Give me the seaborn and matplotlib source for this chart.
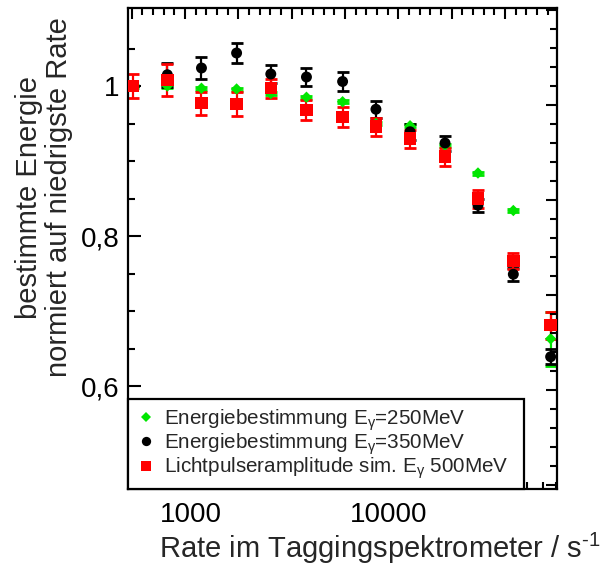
import numpy as np
import pandas as pd
import matplotlib
matplotlib.use("Agg")
import matplotlib.pyplot as plt
import seaborn as sns
from matplotlib.ticker import FixedLocator, LogLocator, FuncFormatter, NullFormatter

# Rate im Taggingspektrometer (1/s)
rate = [510, 760, 1130, 1700, 2530, 3830, 5830, 8590, 12770, 19180, 28130, 42430, 65470]

# Energiebestimmung bei E_gamma = 250 MeV
e250 = [1.0, 1.0, 0.997, 0.996, 0.990, 0.985, 0.979, 0.950, 0.947, 0.921, 0.884, 0.834, 0.663]
e250_err = [0.002, 0.002, 0.002, 0.002, 0.002, 0.002, 0.002, 0.002, 0.002, 0.002, 0.002, 0.002, 0.036]

# Energiebestimmung bei E_gamma = 350 MeV
e350 = [1.0, 1.015, 1.024, 1.044, 1.016, 1.012, 1.006, 0.969, 0.939, 0.924, 0.841, 0.749, 0.639]
e350_err = [0.0, 0.016, 0.015, 0.013, 0.012, 0.012, 0.013, 0.011, 0.011, 0.010, 0.009, 0.009, 0.010]

# Lichtpulseramplitude, simuliert E_gamma = 500 MeV
licht = [1.0, 1.008, 0.977, 0.976, 0.997, 0.968, 0.959, 0.946, 0.930, 0.906, 0.850, 0.767, 0.681]
licht_err = [0.016, 0.021, 0.015, 0.016, 0.013, 0.013, 0.013, 0.012, 0.012, 0.012, 0.012, 0.011, 0.018]

labels = [
    r'Energiebestimmung E$_{\mathregular{γ}}$=250MeV',
    r'Energiebestimmung E$_{\mathregular{γ}}$=350MeV',
    r'Lichtpulseramplitude sim. E$_{\mathregular{γ}}$ 500MeV',
]
colors = ['#00e600', '#000000', '#ff0000']
markers = ['D', 'o', 's']
sizes = [34, 62, 80]

sns.set_style('ticks')
plt.rcParams['font.family'] = ['Liberation Sans', 'DejaVu Sans']
plt.rcParams['mathtext.fontset'] = 'custom'
plt.rcParams['mathtext.rm'] = 'Liberation Sans'
plt.rcParams['mathtext.it'] = 'Liberation Sans:italic'

fig = plt.figure(figsize=(6.12, 5.69), dpi=100)
ax = fig.add_axes([128 / 612, 1 - 489 / 569, 429 / 612, 481 / 569])

series = [(e250, e250_err), (e350, e350_err), (licht, licht_err)]
frames = []
for lab, (vals, errs), col in zip(labels, series, colors):
    ax.errorbar(rate, vals, yerr=errs, fmt='none', ecolor=col,
                elinewidth=1.6, capsize=4.3, capthick=2.0, zorder=2)
    frames.append(pd.DataFrame({'rate': rate, 'wert': vals, 'serie': lab}))
df = pd.concat(frames, ignore_index=True)

sns.scatterplot(data=df, x='rate', y='wert', hue='serie', style='serie', size='serie',
                palette=dict(zip(labels, colors)), markers=dict(zip(labels, markers)),
                sizes=dict(zip(labels, sizes)), edgecolor='none', linewidth=0,
                ax=ax, zorder=3, legend=True)

ax.set_xscale('log')
ax.set_xlim(481, 70500)
ax.set_ylim(0.4627, 1.104)

ax.xaxis.set_major_locator(FixedLocator([1000, 10000]))
ax.xaxis.set_major_formatter(FuncFormatter(lambda v, p: f'{int(round(v))}'))
ax.xaxis.set_minor_locator(LogLocator(base=10, subs=np.arange(2, 10)))
ax.xaxis.set_minor_formatter(NullFormatter())
ax.yaxis.set_major_locator(FixedLocator([0.6, 0.8, 1.0]))
ax.yaxis.set_major_formatter(FuncFormatter(lambda v, p: f'{v:g}'.replace('.', ',')))
ax.yaxis.set_minor_locator(FixedLocator([0.5, 0.55, 0.65, 0.7, 0.75, 0.85, 0.9, 0.95, 1.05]))

ax.tick_params(which='both', direction='in', top=False, right=False, width=1.5,
               labelsize=20, colors='black')
ax.tick_params(which='major', length=9.5)
ax.tick_params(axis='x', which='major', pad=9)
ax.tick_params(axis='y', which='major', pad=6)
ax.tick_params(which='minor', length=5)
for sp in ax.spines.values():
    sp.set_linewidth(1.6)
    sp.set_color('black')
ax.set_xlabel('')
ax.set_ylabel('')

# top and right frame carry their own evenly spaced scale without labels
ov = fig.add_axes(ax.get_position(), frameon=False)
ov.patch.set_visible(False)
ov.set_xlim(0, 1)
ov.set_ylim(0, 1)
ov.xaxis.set_ticks_position('top')
ov.yaxis.set_ticks_position('right')
ov.set_xticks(np.arange(0.0086, 1.0, 0.1243))
ov.set_xticks(np.arange(0.0086, 1.0, 0.1243 / 5), minor=True)
ov.set_yticks(np.arange(0.008, 1.0, 0.1975))
ov.set_yticks(np.arange(0.008, 1.0, 0.1975 / 5), minor=True)
ov.tick_params(which='both', direction='in', labeltop=False, labelright=False,
               labelbottom=False, labelleft=False, width=1.5, colors='black')
ov.tick_params(which='major', length=8)
ov.tick_params(which='minor', length=5)

handles, _ = ax.get_legend_handles_labels()
leg = ax.legend(handles=handles[-3:] if len(handles) > 3 else handles, labels=labels,
                loc='lower left', bbox_to_anchor=(0, 0, 0.923, 0.183), mode='expand',
                borderaxespad=0, frameon=True, fancybox=False, edgecolor='black',
                framealpha=1, fontsize=14.9, handletextpad=0.35, borderpad=0.38,
                labelspacing=-0.06, handlelength=1.0, markerscale=0.85)
leg.get_frame().set_linewidth(1.6)
leg.set_zorder(5)

fig.text(44 / 612, 1 - 197 / 569, 'bestimmte Energie\nnormiert auf niedrigste Rate',
         rotation=90, ha='center', va='center', multialignment='center',
         fontsize=21, linespacing=1.1)
fig.text(380 / 612, 1 - 548 / 569, r'Rate im Taggingspektrometer / s$^{\text{-1}}$',
         ha='center', va='center', fontsize=21)

fig.savefig('out.png', dpi=100)
